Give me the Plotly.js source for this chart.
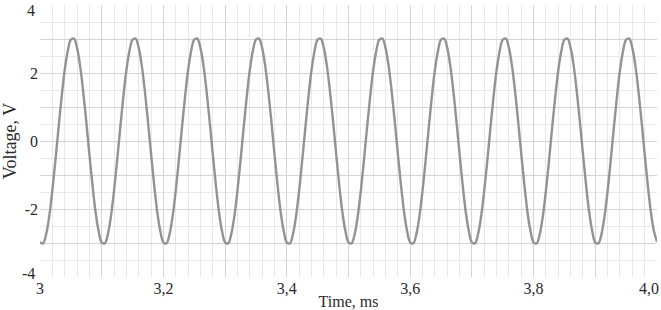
<!DOCTYPE html>
<html>
<head>
<meta charset="utf-8">
<script src="https://cdn.plot.ly/plotly-3.0.1.min.js"></script>
<style>html,body{margin:0;padding:0;background:#fff;}#chart{width:661px;height:310px;}</style>
</head>
<body>
<div id="chart"></div>
<script>
// Time axis: samples start at 3.000 ms, every 0.005 ms
const timeStart = 3.0;
const timeStep = 0.005;
// Voltage samples (V), one line per 0.1 ms period
const voltage = [
 -2.98,-3.01,-2.74,-2.21,-1.46,-0.57,0.38,1.29,2.08,2.65,2.98,3.01,2.74,2.21,1.46,0.57,-0.38,-1.29,-2.08,-2.65,
 -2.98,-3.01,-2.74,-2.21,-1.46,-0.57,0.38,1.29,2.08,2.65,2.98,3.01,2.74,2.21,1.46,0.57,-0.38,-1.29,-2.08,-2.65,
 -2.98,-3.01,-2.74,-2.21,-1.46,-0.57,0.38,1.29,2.08,2.65,2.98,3.01,2.74,2.21,1.46,0.57,-0.38,-1.29,-2.08,-2.65,
 -2.98,-3.01,-2.74,-2.21,-1.46,-0.57,0.38,1.29,2.08,2.65,2.98,3.01,2.74,2.21,1.46,0.57,-0.38,-1.29,-2.08,-2.65,
 -2.98,-3.01,-2.74,-2.21,-1.46,-0.57,0.38,1.29,2.08,2.65,2.98,3.01,2.74,2.21,1.46,0.57,-0.38,-1.29,-2.08,-2.65,
 -2.98,-3.01,-2.74,-2.21,-1.46,-0.57,0.38,1.29,2.08,2.65,2.98,3.01,2.74,2.21,1.46,0.57,-0.38,-1.29,-2.08,-2.65,
 -2.98,-3.01,-2.74,-2.21,-1.46,-0.57,0.38,1.29,2.08,2.65,2.98,3.01,2.74,2.21,1.46,0.57,-0.38,-1.29,-2.08,-2.65,
 -2.98,-3.01,-2.74,-2.21,-1.46,-0.57,0.38,1.29,2.08,2.65,2.98,3.01,2.74,2.21,1.46,0.57,-0.38,-1.29,-2.08,-2.65,
 -2.98,-3.01,-2.74,-2.21,-1.46,-0.57,0.38,1.29,2.08,2.65,2.98,3.01,2.74,2.21,1.46,0.57,-0.38,-1.29,-2.08,-2.65,
 -2.98,-3.01,-2.74,-2.21,-1.46,-0.57,0.38,1.29,2.08,2.65,2.98,3.01,2.74,2.21,1.46,0.57,-0.38,-1.29,-2.08,-2.65,
 -2.96
];
const xTickVals = [3.0,3.1,3.2,3.3,3.4,3.5,3.6,3.7,3.8,3.9,4.0];
const xTickText = ["3","","3,2","","3,4","","3,6","","3,8","","4,0"];
const yTickVals = [-4,-3,-2,-1,0,1,2,3,4];
const yTickText = ["-4","","-2","","0","","2","","4"];

const serif = "Liberation Serif, Times New Roman, serif";
const txtColor = "#2a2a2a";

// end labels sit slightly inside the frame, drawn as annotations
const yAxisText = yTickText.map((t, i) => (i === 0 || i === yTickText.length - 1) ? "" : t);
const xAxisText = xTickText.map((t, i) => (i === xTickText.length - 1) ? "" : t);
const lastX = xTickVals.length - 1;
const annots = [0, yTickVals.length - 1].map(i => ({
  xref: "paper", yref: "y", x: 0, y: yTickVals[i], text: yTickText[i],
  showarrow: false, xanchor: "right", yanchor: "middle",
  xshift: -3, yshift: i === 0 ? 4 : -5,
  font: {family: serif, size: 16, color: txtColor}
})).concat([{
  xref: "x", yref: "paper", x: xTickVals[lastX], y: 0, text: xTickText[lastX],
  showarrow: false, xanchor: "right", yanchor: "top",
  xshift: 4, yshift: -1,
  font: {family: serif, size: 16, color: txtColor}
}]);

Plotly.newPlot("chart", [{
  type: "scatter",
  mode: "lines",
  x0: timeStart,
  dx: timeStep,
  y: voltage,
  line: {color: "#939393", width: 2.4, shape: "spline", smoothing: 1},
  hoverinfo: "skip"
}], {
  width: 661, height: 310,
  margin: {l: 40, r: 4, t: 5, b: 33},
  paper_bgcolor: "#fff",
  plot_bgcolor: "#fff",
  showlegend: false,
  font: {family: serif, color: txtColor, size: 16},
  annotations: annots,
  xaxis: {
    range: [3.0, 4.0],
    tickmode: "array", tickvals: xTickVals, ticktext: xAxisText,
    showgrid: true, gridcolor: "#d4d4d4", gridwidth: 1,
    minor: {dtick: 0.02, tick0: 3.0, showgrid: true, gridcolor: "#e8e8e8", gridwidth: 1},
    zeroline: false, showline: false, ticks: "",
    tickfont: {family: serif, size: 16, color: txtColor},
    ticklabeloverflow: "allow",
    title: {text: "Time, ms", font: {family: serif, size: 16, color: txtColor}, standoff: 0}
  },
  yaxis: {
    range: [-4, 4],
    tickmode: "array", tickvals: yTickVals, ticktext: yAxisText,
    showgrid: true, gridcolor: "#d4d4d4", gridwidth: 1,
    minor: {dtick: 0.5, tick0: 0, showgrid: true, gridcolor: "#e8e8e8", gridwidth: 1},
    zeroline: false, showline: false, ticks: "",
    ticklabelstandoff: 1,
    tickfont: {family: serif, size: 16, color: txtColor},
    title: {text: "Voltage, V", font: {family: serif, size: 18, color: txtColor}, standoff: 6}
  }
}, {displayModeBar: false, staticPlot: true});
</script>
</body>
</html>
